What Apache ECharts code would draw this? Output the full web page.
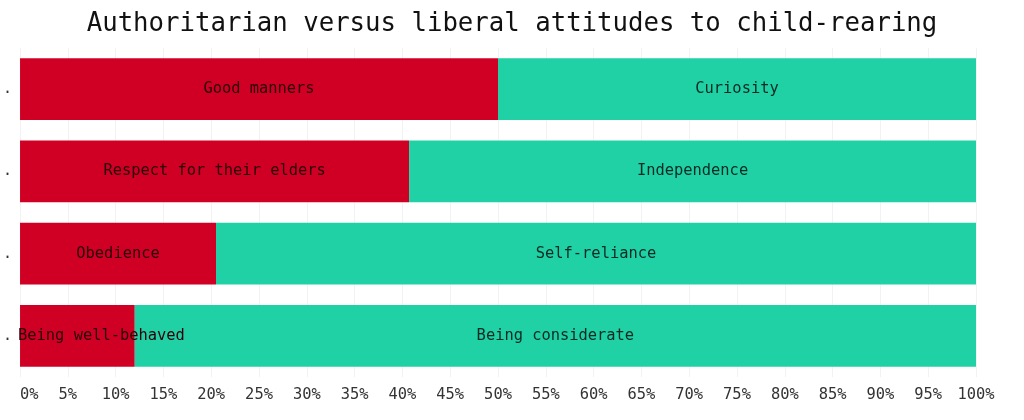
<!DOCTYPE html>
<html><head><meta charset="utf-8">
<script src="https://cdn.jsdelivr.net/npm/echarts@6/dist/echarts.min.js"></script>
<style>html,body{margin:0;padding:0;background:#fff}#c{width:1024px;height:420px}</style>
</head><body><div id="c"></div>
<script>
const categories = ['.', '.', '.', '.'];
const authoritarianLabels = ['Good manners', 'Respect for their elders', 'Obedience', 'Being well-behaved'];
const liberalLabels = ['Curiosity', 'Independence', 'Self-reliance', 'Being considerate'];
const authoritarianValues = [50, 40.7, 20.5, 12];
const liberalValues = authoritarianValues.map(v => 100 - v);
const tickLabels = ['0%','5%','10%','15%','20%','25%','30%','35%','40%','45%','50%','55%','60%','65%','70%','75%','80%','85%','90%','95%','100%'];

const font = '"DejaVu Sans Mono", "Liberation Mono", monospace';
const chart = echarts.init(document.getElementById('c'));
chart.setOption({
  animation: false,
  title: { text: 'Authoritarian versus liberal attitudes to child-rearing', left: 'center', top: 6,
    textStyle: { fontFamily: font, fontSize: 25.7, fontWeight: 'normal', color: '#111' } },
  grid: { left: 20, right: 48, top: 48, bottom: 43, containLabel: false },
  xAxis: { type: 'value', min: 0, max: 100, interval: 5,
    axisLine: { show: false }, axisTick: { show: false },
    splitLine: { show: true, lineStyle: { color: '#f2f2f2', width: 1 } },
    axisLabel: { fontFamily: font, fontSize: 15.4, color: '#333', margin: 10, alignMinLabel: 'left',
      formatter: (v) => tickLabels[Math.round(v / 5)] } },
  yAxis: { type: 'category', data: categories, inverse: true,
    axisLine: { show: false }, axisTick: { show: false },
    axisLabel: { fontFamily: font, fontSize: 15, color: '#333', margin: 8 } },
  series: [
    { type: 'bar', stack: 'a', barCategoryGap: '25%',
      itemStyle: { color: '#d00024' },
      label: { show: true, position: 'inside', fontFamily: font, fontSize: 15.4, color: '#2a0008',
        formatter: (p) => authoritarianLabels[p.dataIndex] },
      data: authoritarianValues.map((v, i) => i === 3 ? { value: v, label: { position: 'insideLeft', distance: 0, offset: [-2, 0] } } : v) },
    { type: 'bar', stack: 'a', barCategoryGap: '25%',
      itemStyle: { color: '#1fd1a5' },
      label: { show: true, position: 'inside', fontFamily: font, fontSize: 15.4, color: '#0b2a22',
        formatter: (p) => liberalLabels[p.dataIndex] },
      data: liberalValues }
  ]
});
</script></body></html>
